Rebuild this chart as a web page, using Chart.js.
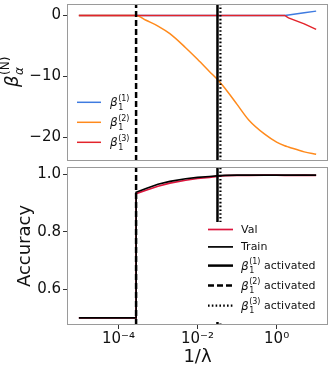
<!DOCTYPE html>
<html>
<head>
<meta charset="utf-8">
<script src="https://cdn.jsdelivr.net/npm/chart.js@4.4.0/dist/chart.umd.min.js"></script>
<style>
  body { margin: 0; background: #fff; }
  #wrap { position: relative; width: 333px; height: 371px; }
  canvas { position: absolute; left: 0; }
  #betaChart { top: 0; }
  #accChart { top: 165px; }
</style>
</head>
<body>
<div id="wrap">
  <canvas id="betaChart" width="333" height="165"></canvas>
  <canvas id="accChart" width="333" height="206"></canvas>
</div>
<script>
// 1/lambda sweep (the jump point appears twice for the vertical step)
const invLambda = [1e-5, 3e-5, 1e-4, 2e-4, 2.8e-4, 2.8e-4, 5e-4, 1e-3, 2e-3, 5e-3, 0.01, 0.02, 0.035, 0.05, 0.1, 0.2, 0.5, 1, 1.6, 2, 5, 10];

const beta1 = [0, 0, 0, 0, 0, 0, 0, 0, 0, 0, 0, 0, 0, 0, 0, 0, 0, 0, 0, 0.08, 0.45, 0.7];
const beta2 = [0, 0, 0, 0, 0, 0, -0.8, -1.75, -3.0, -5.3, -7.2, -9.2, -10.8, -12.0, -14.6, -17.2, -19.5, -20.8, -21.4, -21.6, -22.4, -22.8];
const beta3 = [0, 0, 0, 0, 0, 0, 0, 0, 0, 0, 0, 0, 0, 0, 0, 0, 0, 0, 0, -0.4, -1.4, -2.3];

const trainAcc = [0.5, 0.5, 0.5, 0.5, 0.5, 0.937, 0.95, 0.965, 0.975, 0.984, 0.989, 0.992, 0.995, 0.996, 0.997, 0.997, 0.997, 0.997, 0.997, 0.997, 0.997, 0.997];
const valAcc = [0.5, 0.5, 0.5, 0.5, 0.5, 0.932, 0.944, 0.958, 0.969, 0.979, 0.985, 0.989, 0.993, 0.995, 0.996, 0.996, 0.997, 0.997, 0.996, 0.996, 0.997, 0.996];

// where beta_1^(1), beta_1^(2), beta_1^(3) get activated
const activation = [0.032, 2.8e-4, 0.038];

const xTickValues = [1e-4, 1e-2, 1];
const xTickLabels = ["10⁻⁴", "10⁻²", "10⁰"];
const betaTicks = [-20, -10, 0];
const betaTickLabels = ["−20", "−10", "0"];
const accTicks = [0.6, 0.8, 1.0];
const accTickLabels = ["0.6", "0.8", "1.0"];

Chart.defaults.font.family = '"DejaVu Sans", sans-serif';
Chart.defaults.color = "#111";
Chart.defaults.animation = false;

const FONT = '"DejaVu Sans"';
const xMin = Math.pow(10, -5.3);
const xMax = Math.pow(10, 1.3);

const pts = (ys) => invLambda.map((x, i) => ({ x: x, y: ys[i] }));
const vline = (a, lo, hi) => [{ x: a, y: lo }, { x: a, y: hi }];

function series(data, color, width, dash) {
  return {
    data: data,
    showLine: true,
    borderColor: color,
    backgroundColor: color,
    borderWidth: width,
    borderDash: dash || [],
    pointRadius: 0,
    tension: 0
  };
}

function actLines(lo, hi) {
  return [
    series(vline(activation[0], lo, hi), "#000", 2.5, []),
    series(vline(activation[1], lo, hi), "#000", 2.5, [6, 3]),
    series(vline(activation[2], lo, hi), "#000", 2.2, [1.6, 2.2])
  ];
}

// beta with a subscript and superscript stacked, like mathtext
function drawBeta(ctx, x, y, size, sub, sup, subItalic) {
  ctx.textBaseline = "alphabetic";
  ctx.textAlign = "left";
  ctx.font = "italic " + size + "px " + FONT;
  ctx.fillText("β", x, y);
  const w = ctx.measureText("β").width;
  const s = Math.round(size * 0.68);
  ctx.font = (subItalic ? "italic " : "") + s + "px " + FONT;
  ctx.fillText(sub, x + w + 0.5, y + size * 0.3);
  const w1 = ctx.measureText(sub).width;
  ctx.font = s + "px " + FONT;
  ctx.fillText(sup, x + w + 0.5, y - size * 0.45);
  return x + w + 0.5 + Math.max(w1, ctx.measureText(sup).width);
}

const decor = {
  id: "decor",
  afterDatasetsDraw(chart, args, opts) {
    const ctx = chart.ctx;
    const a = chart.chartArea;
    ctx.save();
    const lg = opts.legend;
    if (lg.box) {
      ctx.fillStyle = "#fff";
      ctx.fillRect(lg.box[0], lg.box[1], lg.box[2], lg.box[3]);
    }
    let y = lg.top;
    lg.items.forEach((it, i) => {
      if (i > 0) y += (lg.items[i - 1].math ? 10 : 8.7) + (it.math ? 10 : 8.7);
      const ds = chart.data.datasets[it.ds];
      ctx.strokeStyle = ds.borderColor;
      ctx.lineWidth = ds.borderWidth;
      ctx.setLineDash(ds.borderDash);
      ctx.beginPath();
      ctx.moveTo(lg.x, y);
      ctx.lineTo(lg.x + lg.len, y);
      ctx.stroke();
      ctx.setLineDash([]);
      ctx.fillStyle = "#111";
      const tx = lg.x + lg.len + lg.gap;
      if (it.math) {
        const end = drawBeta(ctx, tx, y + 4, 12, "1", it.sup, false);
        if (it.text) {
          ctx.font = "11px " + FONT;
          ctx.textBaseline = "middle";
          ctx.fillText(it.text, end + 3.5, y + 0.5);
        }
      } else {
        ctx.font = "11px " + FONT;
        ctx.textBaseline = "middle";
        ctx.fillText(it.text, tx, y + 0.5);
      }
    });
    // axes frame
    ctx.strokeStyle = "#9a9a9a";
    ctx.lineWidth = 1;
    ctx.strokeRect(a.left + 0.5, a.top + 0.5, a.right - a.left - 1, a.bottom - a.top - 1);
    // rotated math y label for the top panel
    if (opts.betaLabel) {
      ctx.translate(17.5, 87);
      ctx.rotate(-Math.PI / 2);
      ctx.fillStyle = "#111";
      drawBeta(ctx, 0, 0, 18, "α", "(N)", true);
    }
    ctx.restore();
  }
};

function xScale(show) {
  return {
    type: "logarithmic",
    min: xMin,
    max: xMax,
    display: show,
    afterBuildTicks: (s) => { s.ticks = xTickValues.map((v) => ({ value: v })); },
    afterFit: (s) => {
      s.height = show ? 46 : 0;
      s.paddingLeft = 0;
      s.paddingRight = 0;
    },
    ticks: {
      font: { size: 15 },
      color: "#111",
      padding: 1,
      maxRotation: 0,
      autoSkip: false,
      callback: (v, i) => xTickLabels[i]
    },
    grid: { drawOnChartArea: false, tickLength: 4, tickColor: "#333" },
    border: { display: false },
    title: { display: show, text: "1/λ", color: "#111", font: { size: 18 }, padding: { top: 0, bottom: 3 } }
  };
}

function yScale(min, max, ticks, labels, title) {
  return {
    type: "linear",
    min: min,
    max: max,
    afterBuildTicks: (s) => { s.ticks = ticks.map((v) => ({ value: v })); },
    afterFit: (s) => { s.width = 67; s.paddingTop = 0; s.paddingBottom = 0; },
    ticks: { font: { size: 15 }, color: "#111", padding: 2, callback: (v, i) => labels[i] },
    grid: { drawOnChartArea: false, tickLength: 4, tickColor: "#333" },
    border: { display: false },
    title: { display: !!title, text: title || "", color: "#111", font: { size: 18 }, padding: { top: 15, bottom: 0 } }
  };
}

const betaMin = -23.9, betaMax = 1.87;
const orange = series(pts(beta2), "#ff8a1c", 1.5);
orange.cubicInterpolationMode = "monotone";

new Chart(document.getElementById("betaChart"), {
  type: "scatter",
  data: {
    datasets: [
      ...actLines(betaMin, betaMax),
      series(pts(beta3), "#e3242b", 1.5),
      orange,
      series(pts(beta1), "#3f7be0", 1.5)
    ]
  },
  options: {
    responsive: false,
    events: [],
    layout: { padding: { top: 4, right: 5, bottom: 4, left: 0 } },
    scales: {
      x: xScale(false),
      y: yScale(betaMin, betaMax, betaTicks, betaTickLabels, null)
    },
    plugins: {
      legend: { display: false },
      tooltip: { enabled: false },
      decor: {
        betaLabel: true,
        legend: {
          x: 77, len: 24, gap: 9, top: 102.3, box: null,
          items: [
            { ds: 5, math: true, sup: "(1)" },
            { ds: 4, math: true, sup: "(2)" },
            { ds: 3, math: true, sup: "(3)" }
          ]
        }
      }
    }
  },
  plugins: [decor]
});

const accMin = 0.475, accMax = 1.025;
new Chart(document.getElementById("accChart"), {
  type: "scatter",
  data: {
    datasets: [
      ...actLines(accMin, accMax),
      series(pts(trainAcc), "#000", 1.7),
      series(pts(valAcc), "#dc143c", 1.7)
    ]
  },
  options: {
    responsive: false,
    events: [],
    layout: { padding: { top: 2, right: 5, bottom: 0, left: 0 } },
    scales: {
      x: xScale(true),
      y: yScale(accMin, accMax, accTicks, accTickLabels, "Accuracy")
    },
    plugins: {
      legend: { display: false },
      tooltip: { enabled: false },
      decor: {
        betaLabel: false,
        legend: {
          x: 208, len: 25, gap: 8, top: 64.5, box: [203, 57, 124, 100],
          items: [
            { ds: 4, text: "Val" },
            { ds: 3, text: "Train" },
            { ds: 0, math: true, sup: "(1)", text: "activated" },
            { ds: 1, math: true, sup: "(2)", text: "activated" },
            { ds: 2, math: true, sup: "(3)", text: "activated" }
          ]
        }
      }
    }
  },
  plugins: [decor]
});
</script>
</body>
</html>
